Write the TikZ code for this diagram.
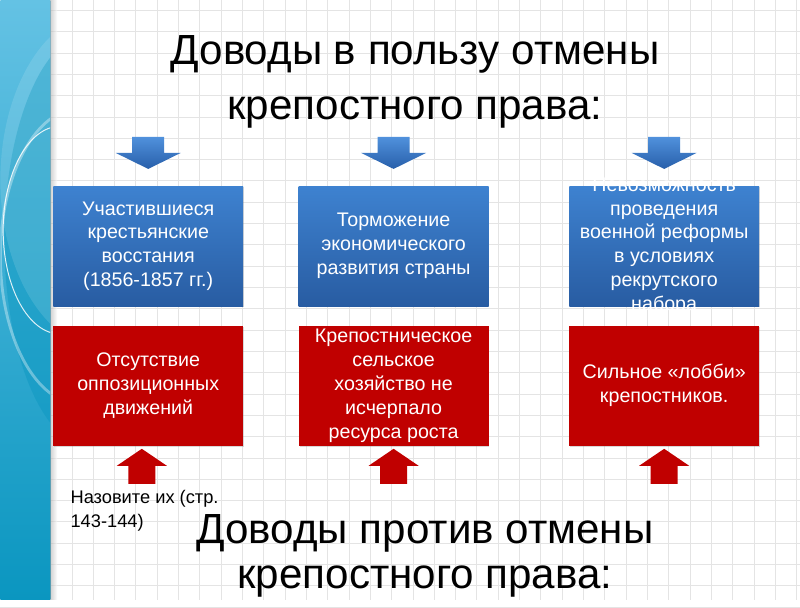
\documentclass[tikz,border=0pt]{standalone}
\usepackage{fontspec}
\setmainfont{Liberation Sans}
\usetikzlibrary{positioning,shadows}

\definecolor{slidered}{RGB}{192,0,0}
\definecolor{blueup}{RGB}{62,130,208}
\definecolor{bluedown}{RGB}{40,92,162}
\definecolor{arrup}{RGB}{80,145,220}
\definecolor{arrdown}{RGB}{40,95,170}
\definecolor{gridgray}{RGB}{228,228,228}
\definecolor{stripa}{RGB}{100,194,228}
\definecolor{stripb}{RGB}{10,150,192}

\tikzset{
  gridline/.style={gridgray, line width=0.5pt},
  probox/.style={minimum width=4.75cm, minimum height=3cm, inner sep=0pt,
    top color=blueup, bottom color=bluedown,
    drop shadow={shadow xshift=0.6pt, shadow yshift=-0.8pt, opacity=0.3}},
  contrabox/.style={minimum width=4.75cm, minimum height=3cm, inner sep=0pt,
    fill=slidered,
    drop shadow={shadow xshift=0.6pt, shadow yshift=-0.8pt, opacity=0.3}},
  boxtxt/.style={text=white, align=center, inner sep=0pt,
    font=\fontsize{14}{17}\selectfont},
  title/.style={align=center, inner sep=0pt, font=\fontsize{30}{39}\selectfont},
  pics/downarr/.style={code={
    \shade[top color=arrup, bottom color=arrdown]
      (-0.4,0.8) -- (0.4,0.8) -- (0.4,0.4) -- (0.8125,0.4) -- (0,0)
      -- (-0.8125,0.4) -- (-0.4,0.4) -- cycle;}},
  pics/uparr/.style={code={
    \fill[slidered]
      (-0.3375,-0.875) -- (0.3375,-0.875) -- (0.3375,-0.425) -- (0.625,-0.425)
      -- (0,0) -- (-0.625,-0.425) -- (-0.3375,-0.425) -- cycle;}}
}

\begin{document}
\begin{tikzpicture}

  % --- fondo a quadretti ---
  \fill[white] (0,0) rectangle (20,15);
  \foreach \i in {0,...,37}
    \draw[gridline] ({0.19+\i*0.5333},0) -- ++(0,15);
  \foreach \j in {0,...,28}
    \draw[gridline] (0,{14.75-\j*0.5333}) -- ++(20,0);

  % --- striscia a sinistra ---
  \begin{scope}
    \clip (0,0) rectangle (1.25,15);
    \shade[top color=stripa, bottom color=stripb] (0,0) rectangle (1.25,15);
    \fill[stripb, opacity=0.45] (2.3,9.0) ellipse (2.2 and 5.2);
    \fill[white, opacity=0.12] (2.6,10.5) ellipse (2.6 and 4.2);
    \draw[white, opacity=0.85, line width=0.7pt] (1.5,9.25) ellipse (1.43 and 2.6);
    \draw[white, opacity=0.35, line width=2pt] (2.0,8.6) ellipse (2.0 and 3.7);
  \end{scope}
  \shade[left color=black!35, right color=white, opacity=0.5] (1.25,0) rectangle (1.42,15);

  % --- titolo sopra ---
  \node[title] (protitle) at (10.375,12.96) {Доводы в пользу отмены\\крепостного права:};

  % --- riquadri blu ---
  \node[probox] (pro1) at (3.7,8.85) {};
  \node[probox] (pro2) at (9.84,8.85) {};
  \node[probox] (pro3) at (16.61,8.85) {};
  \node[boxtxt] (pro1t) at (pro1) {Участившиеся\\крестьянские\\восстания\\(1856-1857 гг.)};
  \node[boxtxt] (pro2t) at (pro2) {Торможение\\экономического\\развития страны};
  \node[boxtxt] (pro3t) at (pro3) {Невозможность\\проведения\\военной реформы\\в условиях\\рекрутского\\набора};

  % --- frecce blu ---
  \pic at ([yshift=4.25mm]pro1.north) {downarr};
  \pic at ([yshift=4.25mm]pro2.north) {downarr};
  \pic at ([yshift=4.25mm]pro3.north) {downarr};

  % --- riquadri rossi ---
  \node[contrabox, below=0.475cm of pro1] (contra1) {};
  \node[contrabox, below=0.475cm of pro2] (contra2) {};
  \node[contrabox, below=0.475cm of pro3] (contra3) {};
  \node[boxtxt] (contra1t) at (contra1) {Отсутствие\\оппозиционных\\движений};
  \node[boxtxt] (contra2t) at (contra2) {Крепостническое\\сельское\\хозяйство не\\исчерпало\\ресурса роста};
  \node[boxtxt] (contra3t) at (contra3) {Сильное «лобби»\\крепостников.};

  % --- frecce rosse ---
  \pic at ([xshift=-1.6mm, yshift=-0.75mm]contra1.south) {uparr};
  \pic at ([yshift=-0.75mm]contra2.south) {uparr};
  \pic at ([yshift=-0.75mm]contra3.south) {uparr};

  % --- nota e titolo sotto ---
  \node[align=left, anchor=north west, inner sep=0pt,
    font=\fontsize{13}{17}\selectfont] (hint) at (1.75,2.74) {Назовите их (стр.\\143-144)};
  \node[title, font=\fontsize{30}{32}\selectfont] (contratitle) at (10.625,1.09)
    {Доводы против отмены\\крепостного права:};

\end{tikzpicture}
\end{document}
